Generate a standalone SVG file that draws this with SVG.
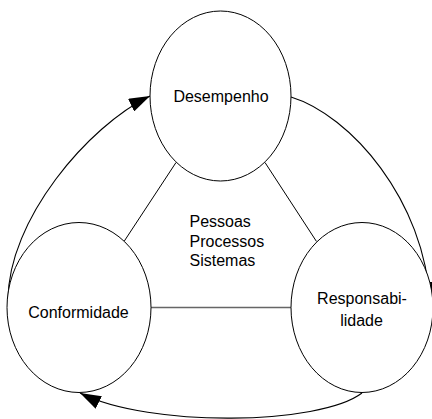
<svg xmlns="http://www.w3.org/2000/svg" width="432" height="419" viewBox="0 0 432 419">
  <style>
    .node { fill: #ffffff; stroke: #000000; stroke-width: 1; }
    .label { font-family: "Liberation Sans", Arial, sans-serif; font-size: 16px; fill: #000000; }
    .mid { text-anchor: middle; }
    .link { fill: none; stroke: #000000; stroke-width: 1; }
    .base { fill: none; stroke: #666666; stroke-width: 1.6; }
    .cycle { fill: none; stroke: #000000; stroke-width: 1.1; marker-end: url(#arrow); }
  </style>
  <defs>
    <marker id="arrow" markerUnits="userSpaceOnUse" markerWidth="22" markerHeight="14" refX="21" refY="7" orient="auto" viewBox="0 0 22 14">
      <path d="M0,0 L21,7 L0,14 Z" fill="#000000"/>
    </marker>
  </defs>

  <!-- inner triangle and outer cycle -->
  <g id="connectors">
    <line class="link" x1="176" y1="162.5" x2="124" y2="241.5"/>
    <line class="link" x1="265" y1="162.5" x2="316.5" y2="241.5"/>
    <line class="base" x1="150.5" y1="307.5" x2="291" y2="307.5"/>
    <path class="cycle" d="M8,300 C8,220 88,126 150,96"/>
    <path class="cycle" d="M291,97 C350,115 425,200 430,303"/>
    <path class="cycle" d="M362,393 C320,425 150,428 80,393"/>
  </g>

  <g id="desempenho">
    <ellipse class="node" cx="220.5" cy="96" rx="70.5" ry="85"/>
    <text class="label mid" x="221" y="102">Desempenho</text>
  </g>

  <g id="conformidade">
    <ellipse class="node" cx="79" cy="307.5" rx="72" ry="85"/>
    <text class="label mid" x="78.5" y="318">Conformidade</text>
  </g>

  <g id="responsabilidade">
    <ellipse class="node" cx="362" cy="307.5" rx="71" ry="85"/>
    <text class="label mid" x="362" y="304">Responsabi-</text>
    <text class="label mid" x="361.5" y="325.5">lidade</text>
  </g>

  <g id="centro">
    <text class="label" x="189.5" y="227">Pessoas</text>
    <text class="label" x="189.5" y="246.5">Processos</text>
    <text class="label" x="189.5" y="266">Sistemas</text>
  </g>
</svg>
